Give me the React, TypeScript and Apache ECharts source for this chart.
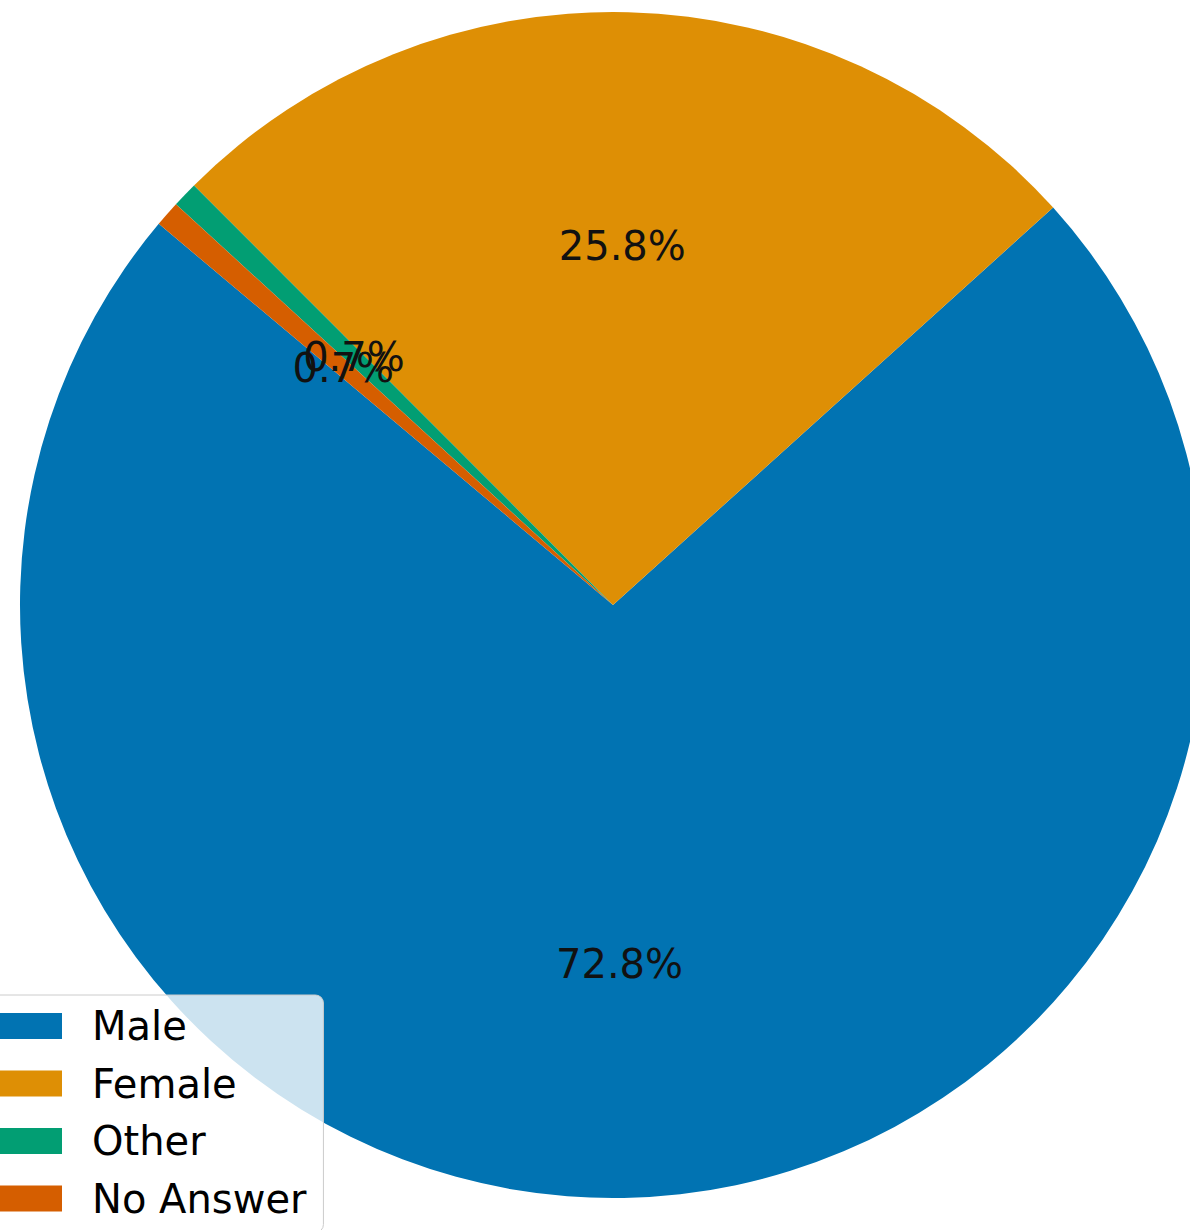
import React, { useEffect, useRef } from "react";
import * as echarts from "echarts";

const categories = ["Male", "Female", "Other", "No Answer"];
const shares = [72.8, 25.8, 0.7, 0.7];
const colors = ["#0173b2", "#de8f05", "#029e73", "#d55e00"];

export default function App() {
  const ref = useRef<HTMLDivElement>(null);
  useEffect(() => {
    if (!ref.current) return;
    const chart = echarts.init(ref.current, undefined, { renderer: "svg" });
    const R = 593;
    const center = [613, 605];
    const pieData = categories.map((name, i) => ({
      name,
      value: shares[i],
      itemStyle: { color: colors[i] },
    }));
    const labelSeries = categories.map((name, i) => ({
      type: "pie",
      center,
      radius: [R * 0.2, R],
      startAngle: 140,
      clockwise: false,
      data: categories.map((n, j) => ({
        name: n,
        value: shares[j],
        itemStyle: { color: "rgba(0,0,0,0)" },
        label: { show: j === i },
      })),
      label: {
        show: true,
        position: "inside",
        fontFamily: "DejaVu Sans",
        fontSize: 40,
        color: "#111111",
        formatter: (p: any) => p.value.toFixed(1) + "%",
      },
      labelLayout: { hideOverlap: false },
      labelLine: { show: false },
      itemStyle: { borderWidth: 0 },
      emphasis: { disabled: true },
      silent: true,
    }));
    chart.setOption({
      animation: false,
      backgroundColor: "#ffffff",
      textStyle: { fontFamily: "DejaVu Sans" },
      legend: {
        data: categories,
        orient: "vertical",
        left: -30,
        top: 995,
        padding: [11, 17, 14, 16],
        itemWidth: 76,
        itemHeight: 26,
        itemGap: 17.5,
        itemStyle: { borderWidth: 0 },
        icon: "rect",
        backgroundColor: "rgba(255,255,255,0.8)",
        borderColor: "#cccccc",
        borderWidth: 1,
        borderRadius: 8,
        textStyle: {
          fontFamily: "DejaVu Sans",
          fontSize: 40,
          color: "#000000",
          padding: [0, 0, 0, 25],
        },
        selectedMode: false,
      },
      series: [
        {
          type: "pie",
          center,
          radius: [0, R],
          startAngle: 140,
          clockwise: false,
          data: pieData,
          label: { show: false },
          labelLine: { show: false },
          itemStyle: { borderWidth: 0 },
          emphasis: { disabled: true },
          silent: true,
        },
        ...labelSeries,
      ],
    });
    return () => chart.dispose();
  }, []);
  return (
    <div
      style={{
        position: "absolute",
        left: 0,
        top: 0,
        width: 1190,
        height: 1230,
        overflow: "hidden",
        background: "#ffffff",
      }}
    >
      <div ref={ref} style={{ width: 1190, height: 1270 }} />
    </div>
  );
}
